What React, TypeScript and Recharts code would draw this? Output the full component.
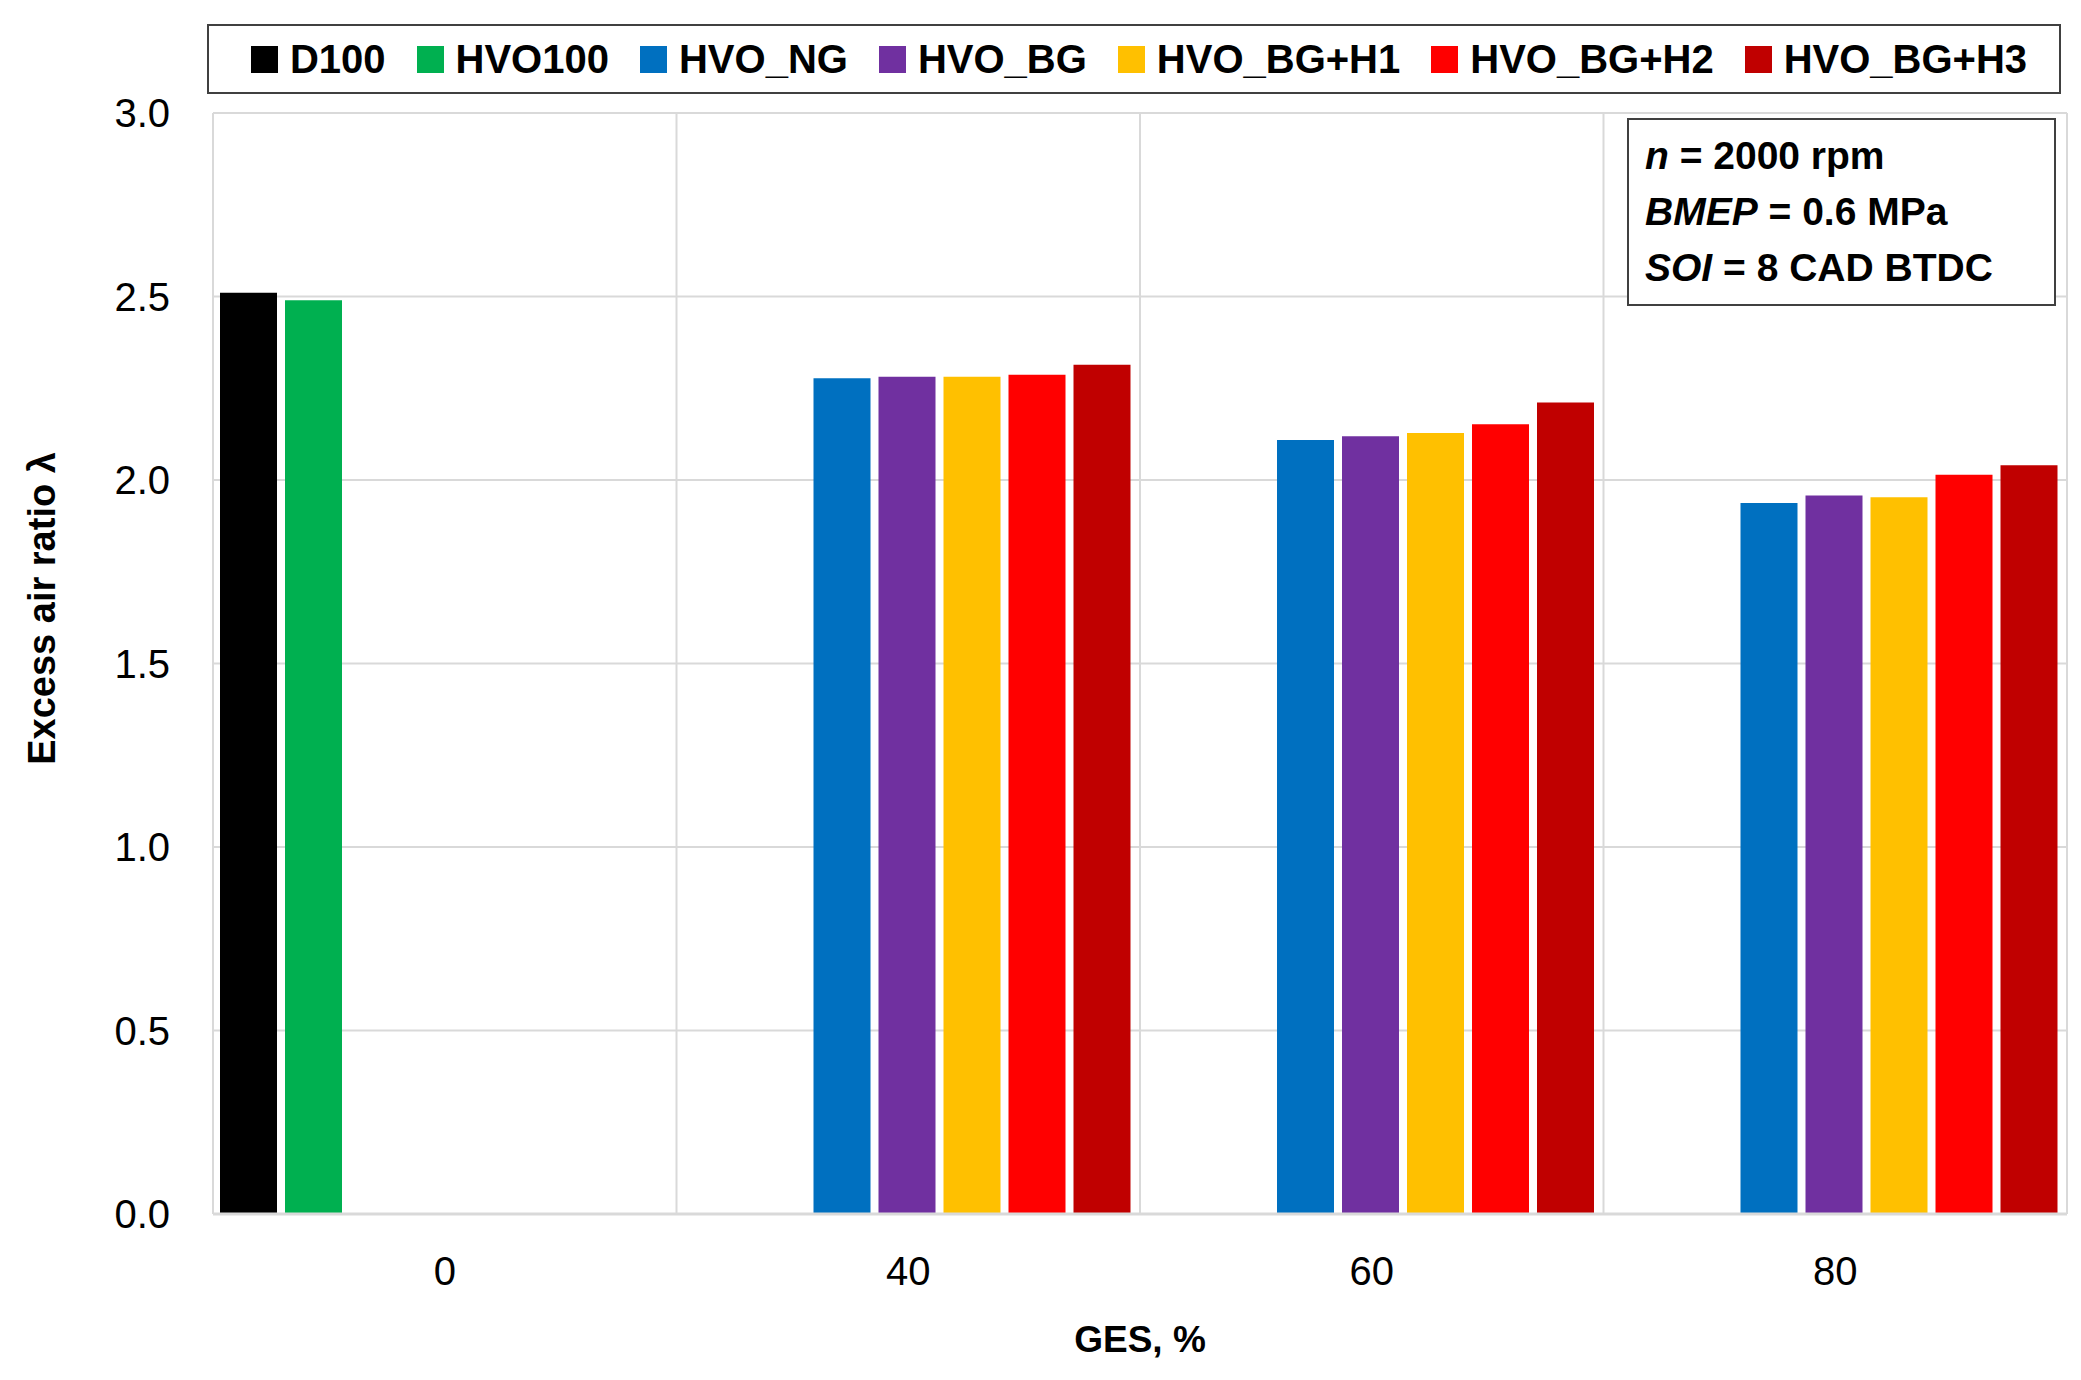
import React from 'react';
import { BarChart, Bar, XAxis, YAxis, CartesianGrid, Legend, Label } from 'recharts';

if (typeof document !== 'undefined') {
  document.body.style.margin = '0';
}

const FONT = '"Liberation Sans", Arial, sans-serif';

const categories = ['0', '40', '60', '80'];
const seriesNames = ['D100', 'HVO100', 'HVO_NG', 'HVO_BG', 'HVO_BG+H1', 'HVO_BG+H2', 'HVO_BG+H3'];
const seriesColors = ['#000000', '#00b050', '#0070c0', '#7030a0', '#ffc000', '#ff0000', '#c00000'];

const d100 = [2.51, null, null, null];
const hvo100 = [2.49, null, null, null];
const hvoNG = [null, 2.277, 2.109, 1.937];
const hvoBG = [null, 2.281, 2.119, 1.958];
const hvoBGH1 = [null, 2.281, 2.128, 1.953];
const hvoBGH2 = [null, 2.287, 2.152, 2.014];
const hvoBGH3 = [null, 2.314, 2.211, 2.04];

const yTicks = [0, 0.5, 1, 1.5, 2, 2.5, 3];

const seriesValues = [d100, hvo100, hvoNG, hvoBG, hvoBGH1, hvoBGH2, hvoBGH3];

const data = categories.map((c, i) => {
  const row: Record<string, any> = { ges: c };
  seriesNames.forEach((n, k) => {
    row[n] = seriesValues[k][i];
  });
  return row;
});

const renderLegend = () => (
  <div
    style={{
      boxSizing: 'border-box',
      width: '100%',
      height: '100%',
      border: '2px solid #404040',
      background: '#fff',
      display: 'flex',
      alignItems: 'center',
      justifyContent: 'center',
      gap: 31,
      paddingLeft: 10,
    }}
  >
    {seriesNames.map((n, i) => (
      <div key={n} style={{ display: 'flex', alignItems: 'center' }}>
        <span
          style={{
            display: 'inline-block',
            width: 27,
            height: 27,
            background: seriesColors[i],
            marginRight: 12,
          }}
        />
        <span style={{ fontFamily: FONT, fontWeight: 700, fontSize: 40, color: '#000', lineHeight: 1 }}>{n}</span>
      </div>
    ))}
  </div>
);

const gridX = ({ offset }: any) => [0, 1, 2, 3, 4].map((i) => offset.left + (i * offset.width) / categories.length);

export default function App() {
  return (
    <div style={{ position: 'relative', width: 2081, height: 1380, background: '#fff' }}>
      <BarChart
        width={2081}
        height={1380}
        data={data}
        margin={{ top: 113, right: 14, bottom: 0, left: 100 }}
        barCategoryGap={7}
        barGap={8}
      >
        <CartesianGrid stroke="#d9d9d9" strokeWidth={2} verticalCoordinatesGenerator={gridX} />
        <XAxis
          dataKey="ges"
          height={166}
          interval={0}
          tickLine={false}
          tickSize={0}
          tickMargin={43}
          axisLine={{ stroke: '#d9d9d9', strokeWidth: 3 }}
          tick={{ fontFamily: FONT, fontSize: 40, fill: '#000' }}
        >
          <Label
            content={({ viewBox }: any) => (
              <text
                x={viewBox.x + viewBox.width / 2}
                y={viewBox.y + 138}
                textAnchor="middle"
                fontFamily={FONT}
                fontWeight={700}
                fontSize={37}
                fill="#000"
              >
                GES, %
              </text>
            )}
          />
        </XAxis>
        <YAxis
          width={113}
          domain={[0, 3]}
          ticks={yTicks}
          interval={0}
          tickFormatter={(v: number) => v.toFixed(1)}
          axisLine={false}
          tickLine={false}
          tickSize={0}
          tickMargin={43}
          tick={{ fontFamily: FONT, fontSize: 40, fill: '#000' }}
        >
          <Label
            content={({ viewBox }: any) => {
              const x = viewBox.x - 45;
              const y = viewBox.y + viewBox.height * 0.45;
              return (
                <text
                  x={x}
                  y={y}
                  transform={`rotate(-90, ${x}, ${y})`}
                  textAnchor="middle"
                  fontFamily={FONT}
                  fontWeight={700}
                  fontSize={38}
                  fill="#000"
                >
                  Excess air ratio λ
                </text>
              );
            }}
          />
        </YAxis>
        <Legend
          layout="horizontal"
          verticalAlign="middle"
          align="center"
          content={renderLegend}
          wrapperStyle={{ position: 'absolute', top: 24, left: 207, width: 1854, height: 70 }}
        />
        {seriesNames.map((n, i) => (
          <Bar key={n} dataKey={n} fill={seriesColors[i]} isAnimationActive={false} />
        ))}
      </BarChart>
      <div
        style={{
          position: 'absolute',
          left: 1627,
          top: 118,
          width: 429,
          height: 188,
          boxSizing: 'border-box',
          border: '2px solid #404040',
          background: '#fff',
          paddingTop: 8,
          paddingLeft: 16,
          fontFamily: FONT,
          fontWeight: 700,
          fontSize: 39,
          color: '#000',
          lineHeight: '56px',
          whiteSpace: 'nowrap',
        }}
      >
        <div>
          <i>n</i> = 2000 rpm
        </div>
        <div>
          <i>BMEP</i> = 0.6 MPa
        </div>
        <div>
          <i>SOI</i> = 8 CAD BTDC
        </div>
      </div>
    </div>
  );
}
